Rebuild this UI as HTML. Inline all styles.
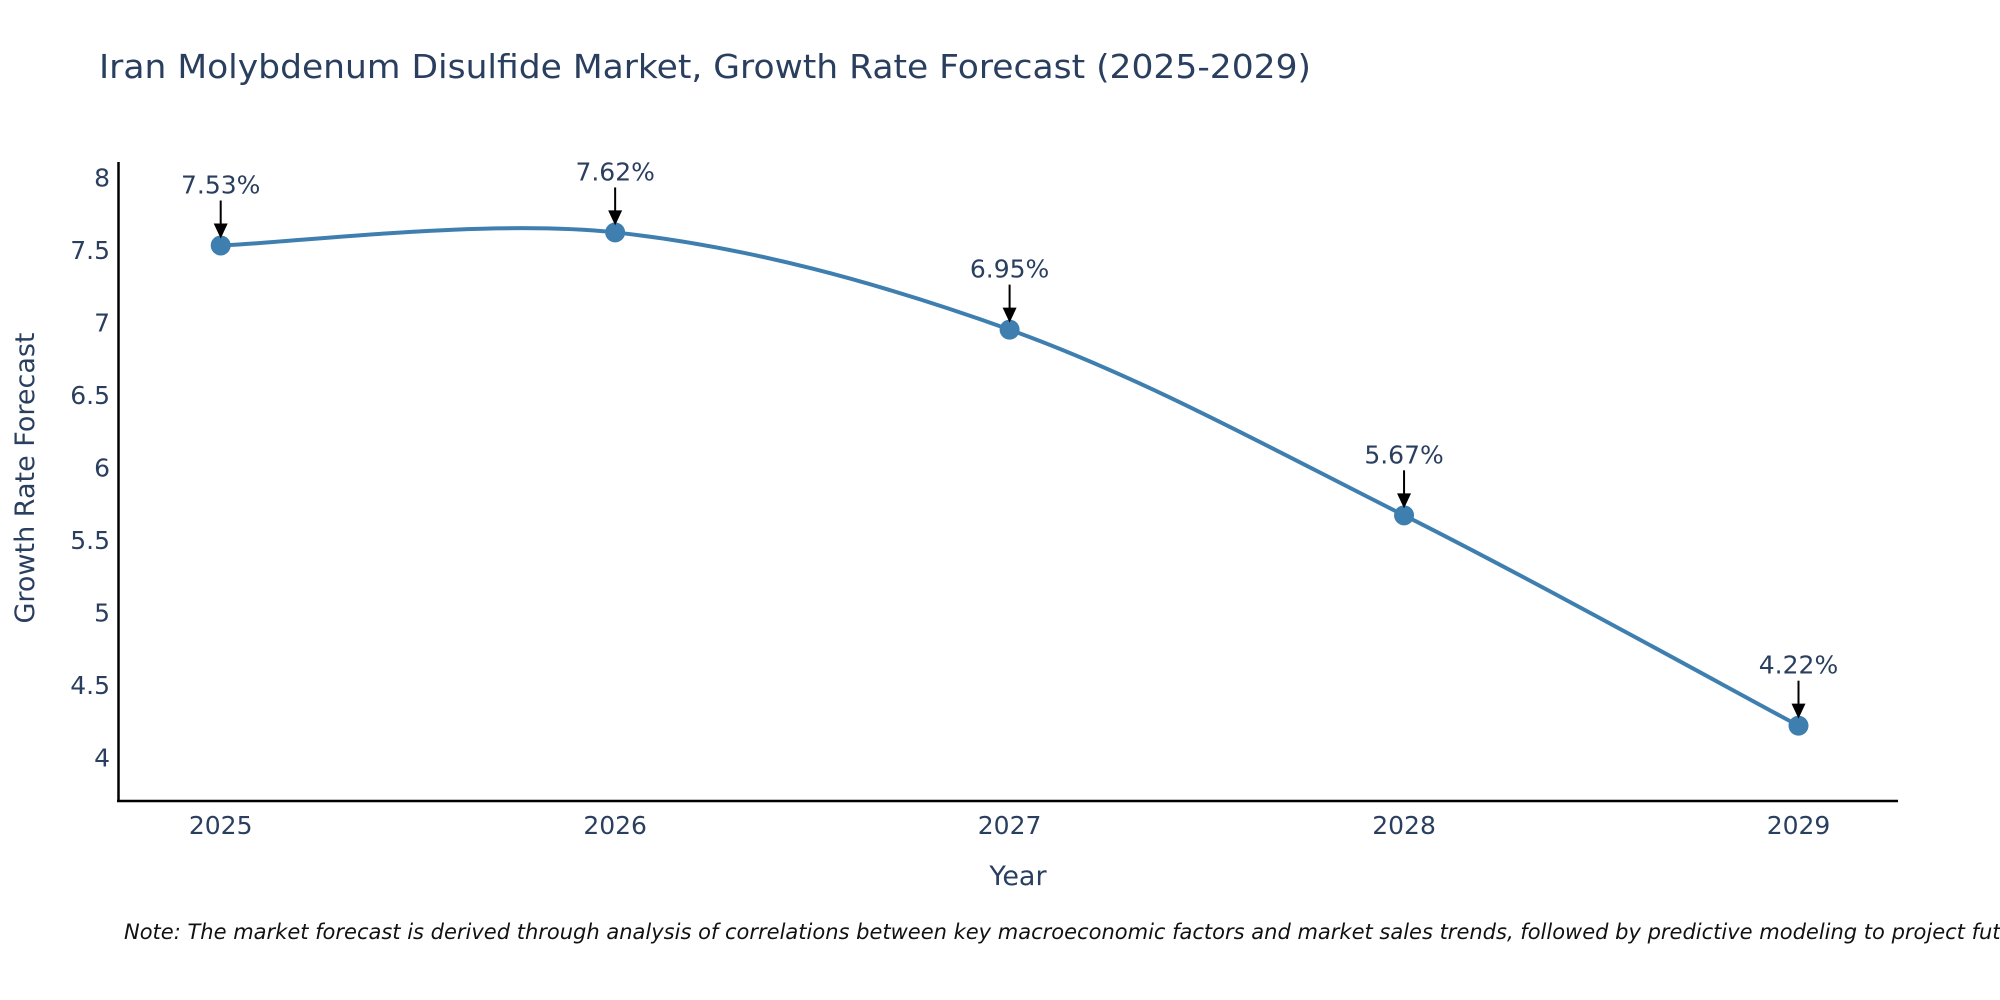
<!DOCTYPE html>
<html><head><meta charset="utf-8"><style>
html,body{margin:0;padding:0;background:#fff;}
svg{display:block;font-family:"DejaVu Sans","Liberation Sans",sans-serif;}
</style></head><body>
<svg id="chart" width="2000" height="1000" viewBox="0 0 2000 1000">
<text x="99" y="78" font-size="33" fill="#2a3f5f" textLength="1212" lengthAdjust="spacingAndGlyphs">Iran Molybdenum Disulfide Market, Growth Rate Forecast (2025-2029)</text>
<g id="axes"></g>
<g id="series"></g>
<text x="1018" y="885" font-size="27" fill="#2a3f5f" text-anchor="middle">Year</text>
<text transform="translate(34,478) rotate(-90)" font-size="27" fill="#2a3f5f" text-anchor="middle">Growth Rate Forecast</text>
<text x="124" y="939" font-size="21" font-style="italic" fill="#111">Note: The market forecast is derived through analysis of correlations between key macroeconomic factors and market sales trends, followed by predictive modeling to project future sales.</text>
</svg>
<script>
const years = [2025, 2026, 2027, 2028, 2029];
const values = [7.53, 7.62, 6.95, 5.67, 4.22];
const valueLabels = ["7.53%", "7.62%", "6.95%", "5.67%", "4.22%"];
const yTicks = [4, 4.5, 5, 5.5, 6, 6.5, 7, 7.5, 8];
const yTickLabels = ["4", "4.5", "5", "5.5", "6", "6.5", "7", "7.5", "8"];

const NS = "http://www.w3.org/2000/svg";
const x = v => 220.7 + (v - 2025) * (1798.5 - 220.7) / 4;
const y = v => 757.6 - (v - 4) * (757.6 - 177.3) / 4;
function mk(tag, attrs, parent){const e=document.createElementNS(NS,tag);for(const k in attrs)e.setAttribute(k,attrs[k]);parent.appendChild(e);return e;}
const axes = document.getElementById("axes"), series = document.getElementById("series");

const yl = mk("line",{x1:118.5,y1:162,x2:118.5,y2:802,stroke:"#000","stroke-width":2.5},axes);


const xl = mk("line",{x1:117,y1:801,x2:1898,y2:801,stroke:"#000","stroke-width":2.5},axes);



yTicks.forEach((t,i)=>{
  const tx = mk("text",{x:110,y:y(t)+9,"font-size":25,fill:"#2a3f5f","text-anchor":"end"},axes);
  tx.textContent = yTickLabels[i];
  
  
});
years.forEach(yr=>{
  const tx = mk("text",{x:x(yr),y:834,"font-size":25,fill:"#2a3f5f","text-anchor":"middle"},axes);
  tx.textContent = String(yr);
  
  
});

const pts = years.map((yr,i)=>[x(yr), y(values[i])]);
let d = "M" + pts[0][0] + "," + pts[0][1];
for (let i=0;i<pts.length-1;i++){
  const p0=pts[Math.max(i-1,0)], p1=pts[i], p2=pts[i+1], p3=pts[Math.min(i+2,pts.length-1)];
  const c1=[p1[0]+(p2[0]-p0[0])/6, p1[1]+(p2[1]-p0[1])/6];
  const c2=[p2[0]-(p3[0]-p1[0])/6, p2[1]-(p3[1]-p1[1])/6];
  d += " C"+c1[0]+","+c1[1]+" "+c2[0]+","+c2[1]+" "+p2[0]+","+p2[1];
}
const path = mk("path",{d:d,fill:"none",stroke:"#3f7fb0","stroke-width":4},series);



pts.forEach((p,i)=>{
  const c = mk("circle",{cx:p[0],cy:p[1],r:10,fill:"#3f7fb0"},series);
  
  
  const a = mk("line",{x1:p[0],y1:p[1]-45,x2:p[0],y2:p[1]-20,stroke:"#000","stroke-width":2},series);
  
  
  const h = mk("polygon",{points:(p[0]-7)+","+(p[1]-22)+" "+(p[0]+7)+","+(p[1]-22)+" "+p[0]+","+(p[1]-7),fill:"#000"},series);
  
  
  const t = mk("text",{x:p[0],y:p[1]-52,"font-size":25,fill:"#2a3f5f","text-anchor":"middle"},series);
  t.textContent = valueLabels[i];
  
  
});
</script>
</body></html>
